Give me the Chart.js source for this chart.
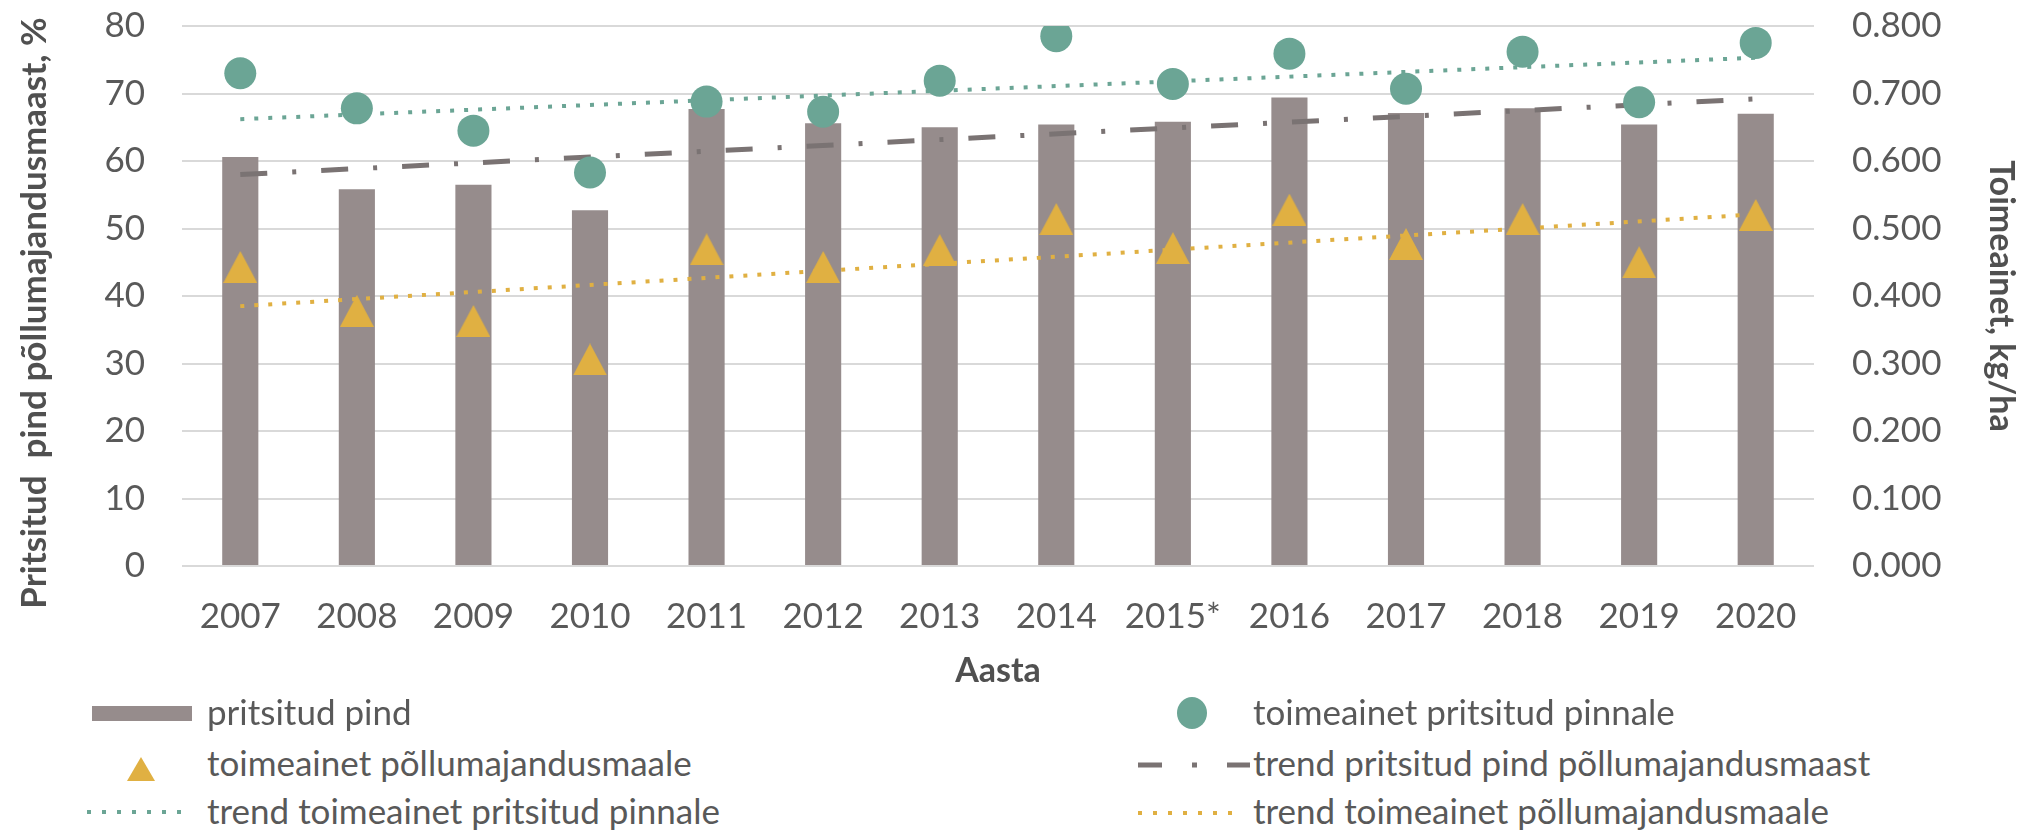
<!DOCTYPE html>
<html>
<head>
<meta charset="utf-8">
<script src="https://cdn.jsdelivr.net/npm/chart.js@4.4.1/dist/chart.umd.min.js"></script>
<style>
  body { margin: 0; background: #fff; }
  #wrap { position: relative; width: 2031px; height: 836px; background: #fff; overflow: hidden; }
  #chart { position: absolute; left: 0; top: 0; }
  .lg-text { position: absolute; height: 50px; line-height: 50px; font: 35px Lato, sans-serif; color: #595959; white-space: nowrap; }
  .lg-sym { position: absolute; }
</style>
</head>
<body>
<div id="wrap">
  <canvas id="chart" width="2031" height="700"></canvas>
  <div id="legend"></div>
</div>
<script>
// years on the x axis
const years = ["2007", "2008", "2009", "2010", "2011", "2012", "2013", "2014", "2015*", "2016", "2017", "2018", "2019", "2020"];

// pritsitud pind põllumajandusmaast, % (left axis)
const sprayedArea = [60.6, 55.8, 56.5, 52.7, 67.7, 65.6, 65.0, 65.4, 65.8, 69.4, 67.1, 67.8, 65.4, 67.0];

// toimeainet, kg/ha (right axis)
const perSprayedArea = [0.730, 0.678, 0.645, 0.583, 0.688, 0.673, 0.719, 0.785, 0.714, 0.759, 0.707, 0.762, 0.687, 0.775];
const perAgriLand = [0.443, 0.378, 0.363, 0.306, 0.469, 0.443, 0.468, 0.514, 0.471, 0.528, 0.477, 0.514, 0.450, 0.520];

// trend lines, read at the first and last year
const trendSprayedArea = [58.0, null, null, null, null, null, null, null, null, null, null, null, null, 69.2];
const trendPerSprayed = [0.662, null, null, null, null, null, null, null, null, null, null, null, null, 0.753];
const trendPerAgri = [0.385, null, null, null, null, null, null, null, null, null, null, null, null, 0.521];

// tick labels
const leftTicks = [0, 10, 20, 30, 40, 50, 60, 70, 80];
const rightTicks = [0, 0.1, 0.2, 0.3, 0.4, 0.5, 0.6, 0.7, 0.8];

const BAR = "#968c8c";
const TEAL = "#6ba595";
const GOLD = "#e0b042";
const TREND_GREY = "#7a7373";
const TEXT = "#595959";

// triangle marker, centred on its bounding box like Excel does
function triangleMarker(w, h, color) {
  const c = document.createElement("canvas");
  c.width = w; c.height = h;
  const g = c.getContext("2d");
  g.fillStyle = color;
  g.beginPath();
  g.moveTo(w / 2, 0);
  g.lineTo(w, h);
  g.lineTo(0, h);
  g.closePath();
  g.fill();
  return c;
}
const tri = triangleMarker(34, 32, GOLD);

// vertical axes: fixed width, and no extra top/bottom padding from the tick padding
function fixWidth(w) {
  return (s) => { s.width = w; s.paddingTop = 0; s.paddingBottom = 0; };
}

const ctx = document.getElementById("chart").getContext("2d");
const chart = new Chart(ctx, {
  data: {
    labels: years,
    datasets: [
      {
        type: "bar",
        label: "pritsitud pind",
        data: sprayedArea,
        backgroundColor: BAR,
        yAxisID: "y",
        barPercentage: 0.31,
        categoryPercentage: 1,
        order: 10,
      },
      {
        type: "line",
        label: "toimeainet pritsitud pinnale",
        data: perSprayedArea,
        yAxisID: "y1",
        showLine: false,
        pointStyle: "circle",
        pointRadius: 16,
        pointBackgroundColor: TEAL,
        pointBorderWidth: 0,
        order: 1,
      },
      {
        type: "line",
        label: "toimeainet põllumajandusmaale",
        data: perAgriLand,
        yAxisID: "y1",
        showLine: false,
        pointStyle: tri,
        pointRadius: 16,
        order: 1,
      },
      {
        type: "line",
        label: "trend pritsitud pind põllumajandusmaast",
        data: trendSprayedArea,
        yAxisID: "y",
        spanGaps: true,
        borderColor: TREND_GREY,
        borderWidth: 5,
        borderDash: [27, 25, 4, 25],
        pointRadius: 0,
        order: 5,
      },
      {
        type: "line",
        label: "trend toimeainet pritsitud pinnale",
        data: trendPerSprayed,
        yAxisID: "y1",
        spanGaps: true,
        borderColor: TEAL,
        borderWidth: 4,
        borderDash: [4, 10],
        pointRadius: 0,
        order: 5,
      },
      {
        type: "line",
        label: "trend toimeainet põllumajandusmaale",
        data: trendPerAgri,
        yAxisID: "y1",
        spanGaps: true,
        borderColor: GOLD,
        borderWidth: 4,
        borderDash: [4, 10],
        pointRadius: 0,
        order: 5,
      },
    ],
  },
  options: {
    responsive: false,
    animation: false,
    devicePixelRatio: 1,
    layout: { padding: { top: 26, left: 0, right: 0, bottom: 0 } },
    plugins: {
      legend: { display: false },
      tooltip: { enabled: false },
    },
    scales: {
      x: {
        grid: { display: false },
        border: { display: false },
        ticks: { color: TEXT, font: { family: "Lato", size: 35 }, padding: 22, maxRotation: 0, autoSkip: false },
        title: { display: true, text: "Aasta", color: "#505050", font: { family: "Lato", size: 34, weight: "bold" }, padding: { top: 0, bottom: 9 } },
        afterFit: (s) => { s.height = 134; },
      },
      y: {
        position: "left",
        min: 0,
        max: 80,
        afterBuildTicks: (s) => { s.ticks = leftTicks.map((v) => ({ value: v })); },
        grid: { color: "#d9d9d9", lineWidth: 2, drawTicks: false },
        border: { display: false },
        ticks: { color: TEXT, font: { family: "Lato", size: 35 }, padding: 37 },
        // trailing no-break spaces nudge the centred title a little lower, as in the original
        title: { display: true, text: "Pritsitud  pind põllumajandusmaast, %\u00a0\u00a0\u00a0\u00a0", color: "#505050", font: { family: "Lato", size: 35, weight: "bold" }, padding: { top: 14, bottom: 0 } },
        afterFit: fixWidth(182),
      },
      y1: {
        position: "right",
        min: 0,
        max: 0.8,
        afterBuildTicks: (s) => { s.ticks = rightTicks.map((v) => ({ value: v })); },
        grid: { drawOnChartArea: false, drawTicks: false },
        border: { display: false },
        ticks: { color: TEXT, font: { family: "Lato", size: 35 }, padding: 38, callback: (v) => Number(v).toFixed(3) },
        title: { display: true, text: "Toimeainet, kg/ha", color: "#505050", font: { family: "Lato", size: 34, weight: "bold" }, padding: { top: 10, bottom: 0 } },
        afterFit: fixWidth(217),
      },
    },
  },
});

// html legend built from the dataset labels, laid out in two columns like the original
const ds = chart.data.datasets;
const legendItems = [
  { label: ds[0].label, x: 207, y: 714, sym: `<div class="lg-sym" style="left:92px;top:706px;width:100px;height:15px;background:${BAR}"></div>` },
  { label: ds[1].label, x: 1253, y: 714, sym: `<div class="lg-sym" style="left:1177px;top:697px;width:30px;height:32px;border-radius:50%;background:${TEAL}"></div>` },
  { label: ds[2].label, x: 207, y: 765, sym: `<svg class="lg-sym" style="left:127px;top:757px" width="28" height="24"><polygon points="14,0 28,24 0,24" fill="${GOLD}"/></svg>` },
  { label: ds[3].label, x: 1253, y: 765, sym: `<svg class="lg-sym" style="left:1138px;top:760px" width="112" height="10"><line x1="0" y1="5" x2="112" y2="5" stroke="${TREND_GREY}" stroke-width="5" stroke-dasharray="24 30 5 30 24"/></svg>` },
  { label: ds[4].label, x: 207, y: 813, sym: `<svg class="lg-sym" style="left:87px;top:808px" width="104" height="8"><line x1="0" y1="4" x2="104" y2="4" stroke="${TEAL}" stroke-width="4" stroke-dasharray="4 11"/></svg>` },
  { label: ds[5].label, x: 1253, y: 813, sym: `<svg class="lg-sym" style="left:1138px;top:809px" width="100" height="8"><line x1="0" y1="4" x2="100" y2="4" stroke="${GOLD}" stroke-width="4" stroke-dasharray="4 11"/></svg>` },
];
document.getElementById("legend").innerHTML = legendItems
  .map((it) => it.sym + `<div class="lg-text" style="left:${it.x}px;top:${it.y - 24}px">${it.label}</div>`)
  .join("");
</script>
</body>
</html>
